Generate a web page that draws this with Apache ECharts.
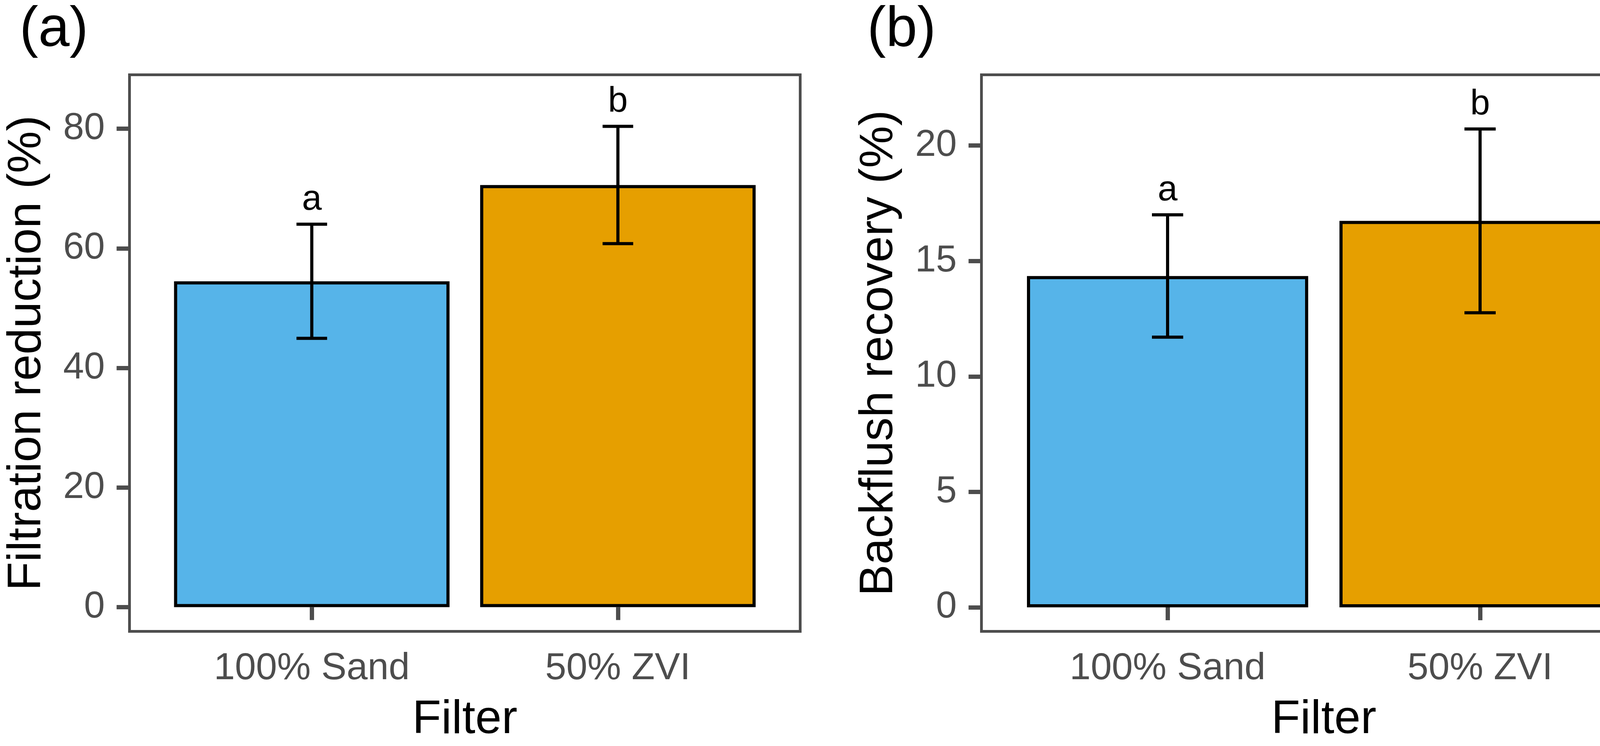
<!DOCTYPE html>
<html>
<head>
<meta charset="utf-8">
<script src="https://cdn.jsdelivr.net/npm/echarts@6.0.0/dist/echarts.min.js"></script>
<style>
  html, body { margin: 0; padding: 0; background: #ffffff; }
  #chart { width: 4288px; height: 1910px; }
</style>
</head>
<body>
<div id="chart"></div>
<script>
// ---------------- data ----------------
const categories = ['100% Sand', '50% ZVI'];
const barColors = ['#56B4E9', '#E69F00'];
const filtrationMean = [54.5, 70.6];
const filtrationSd = [9.55, 9.8];
const filtrationLetters = ['a', 'b'];
const backflushMean = [14.35, 16.74];
const backflushSd = [2.65, 3.98];
const backflushLetters = ['a', 'b'];
const filtrationTicks = [0, 20, 40, 60, 80];
const backflushTicks = [0, 5, 10, 15, 20];
const filtrationLimits = [-4.05, 89.03];
const backflushLimits = [-1.04, 23.065];
const panelTags = ['(a)', '(b)'];
const yTitles = ['Filtration reduction (%)', 'Backflush recovery (%)'];
const xTitle = 'Filter';

// ---------------- layout / style ----------------
const FONT = '"Liberation Sans", Arial, Helvetica, sans-serif';
const GREY = '#4D4D4D';
const PANEL_TOP = 188, PANEL_BOTTOM = 1620;
const PANELS = [{ left: 328, right: 2052, tagX: 50 }, { left: 2509, right: 4269, tagX: 2220 }];
const INSET = 3.5;          // half of the visible border width
const BORDER_W = 7;
const BAR_WIDTH_UNITS = 0.9;
const CAP_WIDTH_UNITS = 0.1;
const X_EXPAND = 0.6;

const chart = echarts.init(document.getElementById('chart'), null, { renderer: 'canvas' });

function gridFor(p) {
  return {
    left: p.left + INSET,
    top: PANEL_TOP + INSET,
    width: (p.right - p.left) - 2 * INSET,
    height: (PANEL_BOTTOM - PANEL_TOP) - 2 * INSET,
    show: true,
    borderColor: GREY,
    borderWidth: BORDER_W,
    backgroundColor: 'transparent',
    containLabel: false
  };
}

function xAxisFor(p, gi) {
  const unit = (p.right - p.left) / (categories.length - 1 + 2 * X_EXPAND);
  const pos = categories.map((c, i) => i + 1);
  return {
    type: 'value',
    gridIndex: gi,
    min: 1 - X_EXPAND + INSET / unit,
    max: categories.length + X_EXPAND - INSET / unit,
    axisLine: { show: false },
    splitLine: { show: false },
    axisTick: { show: true, customValues: pos, length: 33, lineStyle: { color: GREY, width: 11 } },
    axisLabel: {
      show: true, customValues: pos, margin: 47,
      color: GREY, fontSize: 97, fontFamily: FONT,
      formatter: v => categories[Math.round(v) - 1] || ''
    },
    name: xTitle,
    nameLocation: 'middle',
    nameGap: 167,
    nameTextStyle: { color: '#000', fontSize: 121, fontFamily: FONT }
  };
}

function yAxisFor(gi, limits, ticks, title) {
  return {
    type: 'value',
    gridIndex: gi,
    min: limits[0],
    max: limits[1],
    axisLine: { show: false },
    splitLine: { show: false },
    axisTick: { show: true, customValues: ticks, length: 33, lineStyle: { color: GREY, width: 11 } },
    axisLabel: {
      show: true, customValues: ticks, margin: 63,
      color: GREY, fontSize: 96, fontFamily: FONT
    },
    name: title,
    nameLocation: 'middle',
    nameGap: 201,
    nameRotate: 90,
    nameTextStyle: { color: '#000', fontSize: 121, fontFamily: FONT }
  };
}

function barSeries(gi, p, means) {
  const unit = (p.right - p.left) / (categories.length - 1 + 2 * X_EXPAND);
  return {
    type: 'bar',
    xAxisIndex: gi,
    yAxisIndex: gi,
    barWidth: BAR_WIDTH_UNITS * unit,
    data: categories.map((c, i) => ({
      value: [i + 1, means[i]],
      itemStyle: { color: barColors[i], borderColor: '#000', borderWidth: 8 }
    })),
    z: 2
  };
}

function errorSeries(gi, means, sds, letters) {
  return {
    type: 'custom',
    xAxisIndex: gi,
    yAxisIndex: gi,
    z: 5,
    encode: { x: 0, y: 1 },
    data: categories.map((c, i) => [i + 1, means[i], sds[i]]),
    renderItem: function (params, api) {
      const x = api.value(0), m = api.value(1), s = api.value(2);
      const top = api.coord([x, m + s]);
      const bot = api.coord([x, m - s]);
      const half = api.size([CAP_WIDTH_UNITS, 0])[0] / 2;
      const st = { stroke: '#000', lineWidth: 8, lineCap: 'butt' };
      return {
        type: 'group',
        children: [
          { type: 'line', shape: { x1: top[0], y1: top[1], x2: bot[0], y2: bot[1] }, style: st },
          { type: 'line', shape: { x1: top[0] - half, y1: top[1], x2: top[0] + half, y2: top[1] }, style: st },
          { type: 'line', shape: { x1: bot[0] - half, y1: bot[1], x2: bot[0] + half, y2: bot[1] }, style: st },
          {
            type: 'text', x: top[0], y: top[1] - 17,
            style: {
              text: letters[params.dataIndex], fill: '#000', fontSize: 91,
              fontFamily: FONT, align: 'center', verticalAlign: 'bottom'
            }
          }
        ]
      };
    }
  };
}

const option = {
  backgroundColor: '#ffffff',
  animation: false,
  title: PANELS.map((p, i) => ({
    text: panelTags[i],
    left: p.tagX,
    top: 6,
    padding: 0,
    textStyle: { color: '#000', fontSize: 144, fontWeight: 'normal', fontFamily: FONT }
  })),
  grid: PANELS.map(gridFor),
  xAxis: PANELS.map((p, i) => xAxisFor(p, i)),
  yAxis: [
    yAxisFor(0, filtrationLimits, filtrationTicks, yTitles[0]),
    yAxisFor(1, backflushLimits, backflushTicks, yTitles[1])
  ],
  series: [
    barSeries(0, PANELS[0], filtrationMean),
    errorSeries(0, filtrationMean, filtrationSd, filtrationLetters),
    barSeries(1, PANELS[1], backflushMean),
    errorSeries(1, backflushMean, backflushSd, backflushLetters)
  ]
};

chart.setOption(option);
</script>
</body>
</html>
